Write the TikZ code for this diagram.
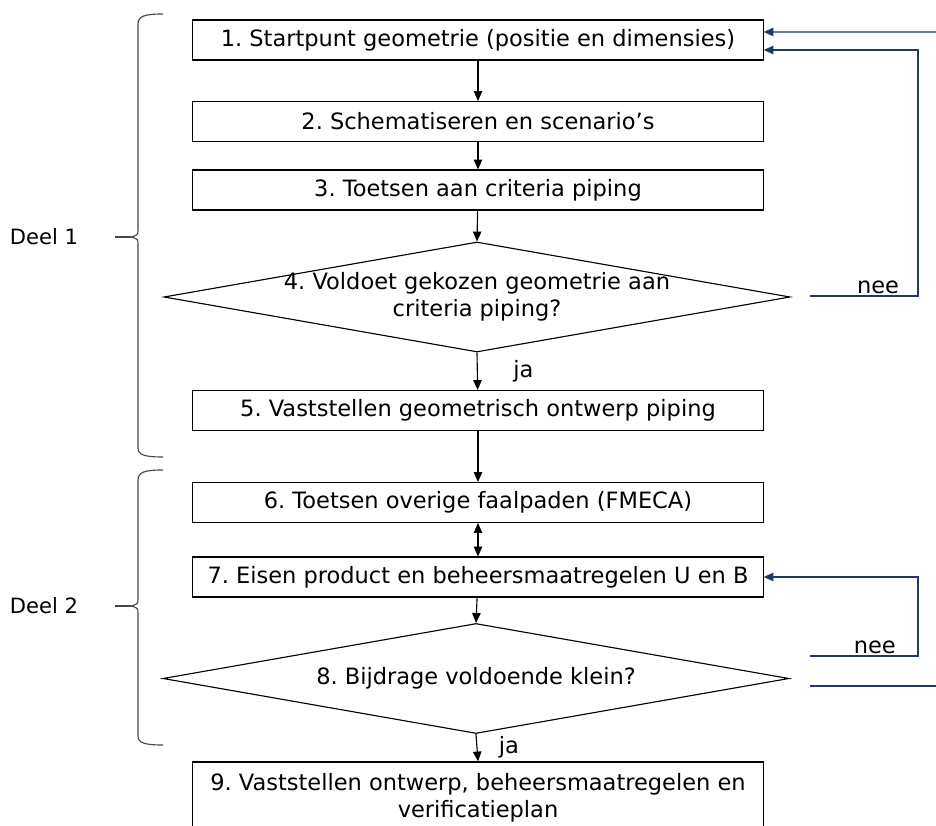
\documentclass[tikz,border=0pt]{standalone}
\usepackage{fontspec}
\setmainfont{DejaVu Sans}
\frenchspacing
\usetikzlibrary{shapes.geometric,arrows.meta}

\definecolor{terug}{RGB}{31,56,100}
\definecolor{accgrijs}{RGB}{70,70,70}

\tikzset{
  stap/.style={shape=rectangle,draw=black,align=center,line width=0.8pt,
    minimum width=14.25cm,minimum height=1cm,inner sep=2pt},
  keuze/.style={shape=diamond,draw=black,align=center,line width=0.8pt,
    aspect=5.6,inner xsep=-1.5cm,inner ysep=0pt,
    minimum width=15.65cm,minimum height=2.75cm},
  pijl/.style={->,draw=black,line width=0.8pt},
  terugpijl/.style={->,draw=terug,line width=0.9pt},
  accolade/.style={draw=accgrijs,line width=0.8pt},
  tekst/.style={inner sep=1pt},
  deel/.style={inner sep=1pt,font=\fontsize{15}{18}\selectfont}
}

\begin{document}
\begin{tikzpicture}[x=0.025cm,y=-0.025cm,font=\fontsize{16}{19.5}\selectfont,
  >={Triangle[length=7pt,width=6pt]}]
\useasboundingbox (0,0) rectangle (936,826);

\node[stap] (b1) at (478,40) {1. Startpunt geometrie (positie en dimensies)};
\node[stap] (b2) at (478,121.5) {2. Schematiseren en scenario's};
\node[stap] (b3) at (478,190) {3. Toetsen aan criteria piping};
\node[keuze] (d4) at (477,297) {4. Voldoet gekozen geometrie aan\\criteria piping?};
\node[stap] (b5) at (478,410.5) {5. Vaststellen geometrisch ontwerp piping};
\node[stap] (b6) at (478,502.5) {6. Toetsen overige faalpaden (FMECA)};
\node[stap] (b7) at (478,577) {7. Eisen product en beheersmaatregelen U en B};
\node[keuze] (d8) at (476,678.5) {8. Bijdrage voldoende klein?};
\node[stap,minimum height=1.8cm] (b9) at (478,798) {9. Vaststellen ontwerp, beheersmaatregelen en\\verificatieplan};

\node[deel] (deel1) at (44,237) {Deel 1};
\node[deel] (deel2) at (44,606) {Deel 2};

\coordinate (n4) at (810,296);
\coordinate (in1) at (936,32);
\coordinate (n8) at (810,656);
\coordinate (u8a) at (810,686);
\coordinate (u8b) at (936,686);

\draw [pijl] (b1) -- (b2);
\draw [pijl] (b2) -- (b3);
\draw [pijl] (b3) -- (d4.north);
\draw [pijl] (d4.south) -- node[tekst,right=0.85cm] {ja} (b5);
\draw [pijl] (b5) -- (b6);
\draw [<->,draw=black,line width=0.8pt] (b6) -- (b7);
\draw [pijl] (b7) -- (d8.north);
\draw [pijl] (d8.south) -- node[tekst,right=0.5cm] {ja} (b9.north);

\draw [terugpijl] (n4) -- node[tekst,above,pos=0.63] {nee} (918,296) |- ([yshift=-0.25cm]b1.east);
\draw [terugpijl] (in1) -- ([yshift=0.2cm]b1.east);
\draw [terugpijl] (n8) -- node[tekst,above,pos=0.6] {nee} (918,656) |- (b7.east);
\draw [draw=terug,line width=0.9pt] (u8a) -- (u8b);

% accolades
\draw [accolade] (163,14) .. controls (145,14) and (138,16) .. (138,24) -- (138,229)
  .. controls (138,235) .. (131,237) .. controls (138,239) .. (138,245) -- (138,448)
  .. controls (138,455) and (145,457) .. (163,457);
\draw [accolade,line width=1.2pt] (115,237) -- (131,237);
\draw [accolade] (163,470) .. controls (145,470) and (138,472) .. (138,480) -- (138,598)
  .. controls (138,604) .. (131,606) .. controls (138,608) .. (138,614) -- (138,736)
  .. controls (138,743) and (145,745) .. (163,745);
\draw [accolade,line width=1.2pt] (115,606) -- (131,606);
\end{tikzpicture}
\end{document}
